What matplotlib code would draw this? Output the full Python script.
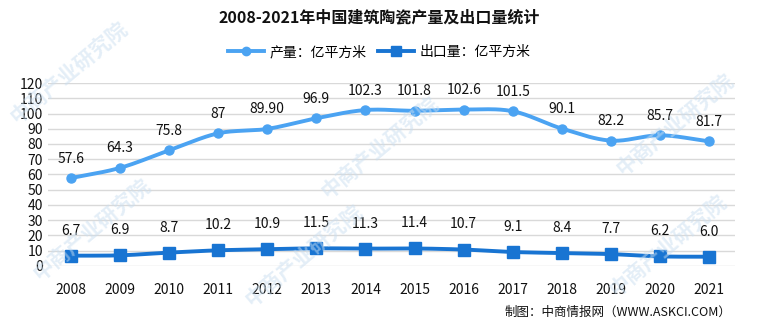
import numpy as np
import matplotlib
matplotlib.use("Agg")
import matplotlib.pyplot as plt

plt.rcParams['font.family'] = ['Noto Sans CJK SC', 'DejaVu Sans']

years = ['2008', '2009', '2010', '2011', '2012', '2013', '2014',
         '2015', '2016', '2017', '2018', '2019', '2020', '2021']
output = [57.6, 64.3, 75.8, 87, 89.90, 96.9, 102.3, 101.8, 102.6, 101.5, 90.1, 82.2, 85.7, 81.7]
output_labels = ['57.6', '64.3', '75.8', '87', '89.90', '96.9', '102.3', '101.8',
                 '102.6', '101.5', '90.1', '82.2', '85.7', '81.7']
export = [6.7, 6.9, 8.7, 10.2, 10.9, 11.5, 11.3, 11.4, 10.7, 9.1, 8.4, 7.7, 6.2, 6.0]
export_labels = ['6.7', '6.9', '8.7', '10.2', '10.9', '11.5', '11.3', '11.4',
                 '10.7', '9.1', '8.4', '7.7', '6.2', '6.0']

c_out = '#4ba3f2'
c_exp = '#1874d2'


def smooth(x, y, n=20):
    # catmull-rom curve through the points, only for drawing
    x = np.asarray(x, float)
    y = np.asarray(y, float)
    px = np.concatenate([[2 * x[0] - x[1]], x, [2 * x[-1] - x[-2]]])
    py = np.concatenate([[2 * y[0] - y[1]], y, [2 * y[-1] - y[-2]]])
    xs, ys = [], []
    t = np.linspace(0, 1, n, endpoint=False)
    for i in range(1, len(px) - 2):
        for p, out in ((px, xs), (py, ys)):
            p0, p1, p2, p3 = p[i - 1], p[i], p[i + 1], p[i + 2]
            out.extend(0.5 * ((2 * p1) + (-p0 + p2) * t + (2 * p0 - 5 * p1 + 4 * p2 - p3) * t ** 2
                              + (-p0 + 3 * p1 - 3 * p2 + p3) * t ** 3))
    xs.append(x[-1])
    ys.append(y[-1])
    return np.array(xs), np.array(ys)


fig = plt.figure(figsize=(7.58, 3.27), dpi=100)
ax = fig.add_axes([0.063, 0.187, 0.907, 0.559])

xi = np.arange(len(years))

# watermark
for wx, wy in [(0.09, 0.78), (0.50, 0.55), (0.89, 0.62), (0.12, 0.30), (0.40, 0.22), (0.88, 0.25)]:
    fig.text(wx, wy, '中商产业研究院', rotation=40, fontsize=15, color='#c9def0',
             alpha=0.5, ha='center', va='center', fontweight='bold', zorder=0)

sx, sy = smooth(xi, output)
ax.plot(sx, sy, color=c_out, lw=2.8, zorder=3)
ax.plot(xi, output, 'o', color=c_out, ms=6.5, zorder=4)
sx, sy = smooth(xi, export)
ax.plot(sx, sy, color=c_exp, lw=2.8, zorder=3)
ax.plot(xi, export, 's', color=c_exp, ms=8, zorder=4)

for i in range(len(years)):
    ax.annotate(output_labels[i], (xi[i], output[i]), xytext=(0, 9), textcoords='offset points',
                ha='center', va='bottom', fontsize=10, color='#111111')
    ax.annotate(export_labels[i], (xi[i], export[i]), xytext=(0, 13), textcoords='offset points',
                ha='center', va='bottom', fontsize=10, color='#111111')

ax.set_xlim(-0.47, 13.53)
ax.set_ylim(0, 120)
ax.set_yticks(range(0, 121, 10))
ax.set_xticks(xi)
ax.set_xticklabels(years)
ax.tick_params(axis='both', length=0, labelsize=10, colors='#111111')
ax.tick_params(axis='x', pad=12)
ax.grid(axis='y', color='#d9d9d9', lw=1)
ax.set_axisbelow(True)
for s in ax.spines.values():
    s.set_visible(False)
ax.patch.set_alpha(0)

fig.text(0.5, 0.945, '2008-2021年中国建筑陶瓷产量及出口量统计', ha='center', va='center',
         fontsize=11.5, fontweight='bold', color='#111111')

h1, = ax.plot([], [], '-o', color=c_out, lw=2.8, ms=6)
h2, = ax.plot([], [], '-s', color=c_exp, lw=2.8, ms=7)
fig.legend([h1, h2], ['产量：亿平方米', '出口量：亿平方米'], loc='center', bbox_to_anchor=(0.5, 0.84),
           ncol=2, frameon=False, fontsize=10, handlelength=2.6, columnspacing=0.8, handletextpad=0.4)

fig.text(0.965, 0.045, '制图：中商情报网（WWW.ASKCI.COM）', ha='right', va='center',
         fontsize=9, color='#111111')

fig.savefig('out.png', dpi=100)
